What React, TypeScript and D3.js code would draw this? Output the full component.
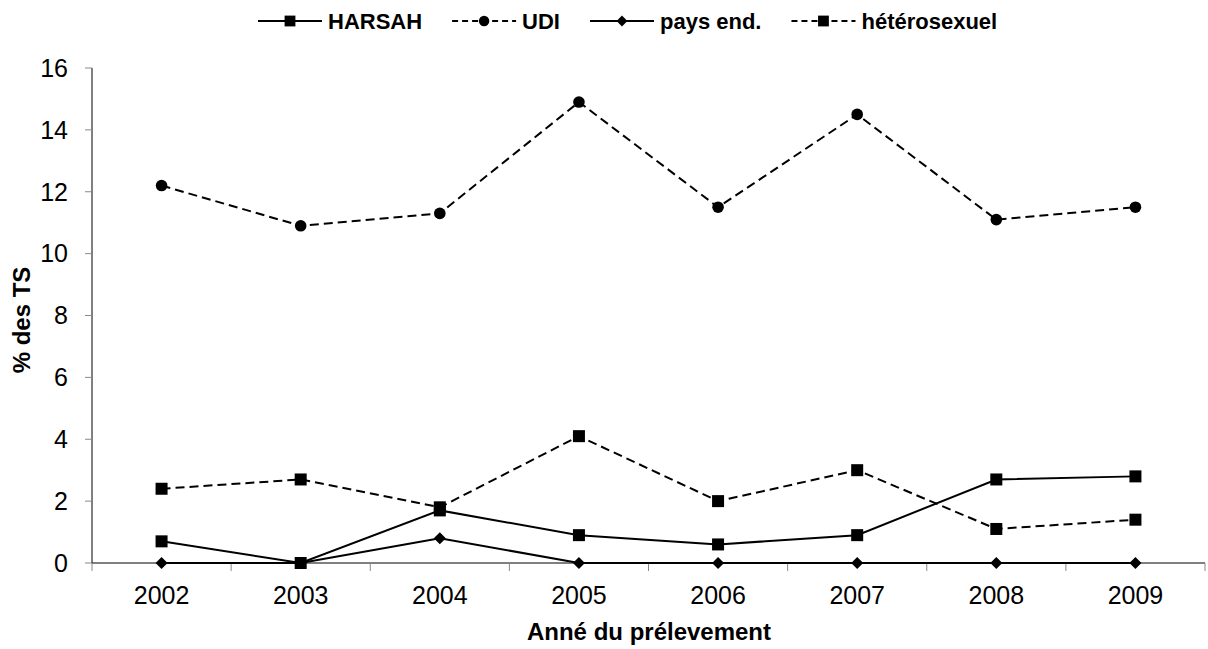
import React from "react";
import * as d3 from "d3";

const years = ["2002", "2003", "2004", "2005", "2006", "2007", "2008", "2009"];
const harsah = [0.7, 0, 1.7, 0.9, 0.6, 0.9, 2.7, 2.8];
const udi = [12.2, 10.9, 11.3, 14.9, 11.5, 14.5, 11.1, 11.5];
const paysEnd = [0, 0, 0.8, 0, 0, 0, 0, 0];
const hetero = [2.4, 2.7, 1.8, 4.1, 2.0, 3.0, 1.1, 1.4];
const yTicks = [0, 2, 4, 6, 8, 10, 12, 14, 16];

const W = 1208;
const H = 649;
const FONT = "Liberation Sans, Arial, sans-serif";

type Series = { name: string; values: number[]; dashed: boolean; marker: "square" | "circle" | "diamond" };

const series: Series[] = [
  { name: "HARSAH", values: harsah, dashed: false, marker: "square" },
  { name: "UDI", values: udi, dashed: true, marker: "circle" },
  { name: "pays end.", values: paysEnd, dashed: false, marker: "diamond" },
  { name: "hétérosexuel", values: hetero, dashed: true, marker: "square" },
];

function Marker({ type, x, y, s = 1 }: { type: string; x: number; y: number; s?: number }) {
  if (type === "circle") return <circle cx={x} cy={y} r={5.8 * s} fill="#000" />;
  if (type === "diamond")
    return (
      <path
        d={`M${x},${y - 6 * s}L${x + 6 * s},${y}L${x},${y + 6 * s}L${x - 6 * s},${y}Z`}
        fill="#000"
      />
    );
  return <rect x={x - 6 * s} y={y - 6 * s} width={12 * s} height={12 * s} fill="#000" />;
}

export default function App() {
  const x = d3.scaleBand().domain(years).range([92, 1205]);
  const y = d3.scaleLinear().domain([0, 16]).range([563, 68]);
  const cx = (d: string) => (x(d) as number) + x.bandwidth() / 2;
  const line = d3
    .line<number>()
    .x((_, i) => cx(years[i]))
    .y((v) => y(v));

  // legend layout: each entry = sample line + label, laid out left to right
  const legendFont = 22;
  const sampleLen = 64;
  const labelGap = 6;
  const entryGap = 30;
  const charW: Record<string, number> = { HARSAH: 4.277, UDI: 1.722, "pays end.": 4.613, "hétérosexuel": 6.169 };
  let cursor = 258;
  const legendX = series.map((s) => {
    const start = cursor;
    cursor += sampleLen + labelGap + charW[s.name] * legendFont + entryGap;
    return start;
  });

  return (
    <svg width={W} height={H} style={{ position: "absolute", left: 0, top: 0 }} fontFamily={FONT}>
      <rect width={W} height={H} fill="#fff" />
      {/* y axis */}
      <line x1={92} x2={92} y1={68} y2={563} stroke="#000" strokeWidth={1} />
      {yTicks.map((t) => (
        <g key={t}>
          <line x1={85} x2={92} y1={y(t)} y2={y(t)} stroke="#888" strokeWidth={1} />
          <text x={68} y={y(t)} dy="0.35em" textAnchor="end" fontSize={25}>
            {t}
          </text>
        </g>
      ))}
      {/* x axis */}
      <line x1={92} x2={1205} y1={563} y2={563} stroke="#000" strokeWidth={1} />
      {[...years.map((d) => x(d) as number), 1205].map((v, i) => (
        <line key={i} x1={v} x2={v} y1={563} y2={571} stroke="#888" strokeWidth={1} />
      ))}
      {years.map((d) => (
        <text key={d} x={cx(d)} y={604} textAnchor="middle" fontSize={25}>
          {d}
        </text>
      ))}
      <text x={649} y={640} textAnchor="middle" fontSize={24} fontWeight="bold">
        Anné du prélevement
      </text>
      <text
        transform="translate(30,320) rotate(-90)"
        textAnchor="middle"
        fontSize={24}
        fontWeight="bold"
      >
        % des TS
      </text>
      {/* series */}
      {series.map((s) => (
        <g key={s.name}>
          <path
            d={line(s.values) || ""}
            fill="none"
            stroke="#000"
            strokeWidth={2}
            strokeDasharray={s.dashed ? "9,5" : undefined}
          />
          {s.values.map((v, i) => (
            <Marker key={i} type={s.marker} x={cx(years[i])} y={y(v)} />
          ))}
        </g>
      ))}
      {/* legend */}
      {series.map((s, i) => (
        <g key={s.name}>
          <line
            x1={legendX[i]}
            x2={legendX[i] + sampleLen}
            y1={21}
            y2={21}
            stroke="#000"
            strokeWidth={2}
            strokeDasharray={s.dashed ? "6,4" : undefined}
          />
          <Marker type={s.marker} x={legendX[i] + sampleLen / 2} y={21} s={0.9} />
          <text x={legendX[i] + sampleLen + labelGap} y={29} fontSize={legendFont} fontWeight="bold">
            {s.name}
          </text>
        </g>
      ))}
    </svg>
  );
}
